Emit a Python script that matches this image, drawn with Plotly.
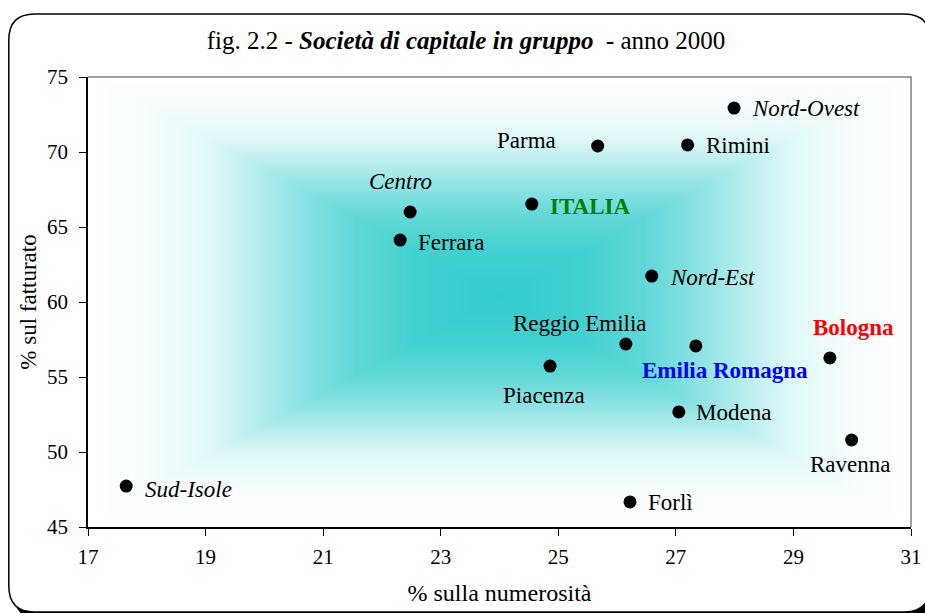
import numpy as np
import plotly.graph_objects as go

# ---------------- data ----------------
names = ["Nord-Ovest", "Parma", "Rimini", "Centro", "ITALIA", "Ferrara", "Nord-Est",
         "Reggio Emilia", "Emilia Romagna", "Bologna", "Piacenza", "Modena",
         "Ravenna", "Sud-Isole", "Forlì"]
numerosita = [27.99, 25.67, 27.20, 22.48, 24.55, 22.31, 26.59,
              26.15, 27.34, 29.62, 24.86, 27.05, 29.99, 17.65, 26.22]
fatturato = [72.93, 70.40, 70.47, 66.00, 66.53, 64.13, 61.73,
             57.20, 57.07, 56.27, 55.73, 52.67, 50.80, 47.73, 46.67]
x_ticks = [17, 19, 21, 23, 25, 27, 29, 31]
y_ticks = [45, 50, 55, 60, 65, 70, 75]

title_plain1 = "fig. 2.2 - "
title_bold = "Società di capitale in gruppo"
title_plain2 = "  - anno 2000"
x_title = "% sulla numerosità"
y_title = "% sul fatturato"

# ---------------- styling ----------------
FONT = "Palatino Linotype, Book Antiqua, Palatino, Liberation Serif, serif"
W, H = 925, 613
L, R, T, B = 88, 14, 77, 86
PW, PH = W - L - R, H - T - B
LABEL_SIZE = 23

# label placement: (xanchor, xshift, yshift, color, bold, italic)
label_style = {
    "Nord-Ovest": ("left", 16, 0, "black", False, True),
    "Parma": ("right", -40, 6, "black", False, False),
    "Rimini": ("left", 16, -1, "black", False, False),
    "Centro": ("center", -10, 31, "black", False, True),
    "ITALIA": ("left", 16, -2, "#008000", True, False),
    "Ferrara": ("left", 16, -2, "black", False, False),
    "Nord-Est": ("left", 16, -1, "black", False, True),
    "Reggio Emilia": ("center", -46, 21, "black", False, False),
    "Emilia Romagna": ("center", 29, -25, "#0000FF", True, False),
    "Bologna": ("center", 24, 30, "#FF0000", True, False),
    "Piacenza": ("center", -6, -29, "black", False, False),
    "Modena": ("left", 15, -1, "black", False, False),
    "Ravenna": ("center", -2, -24, "black", False, False),
    "Sud-Isole": ("left", 17, -3, "black", False, True),
    "Forlì": ("left", 16, -1, "black", False, False),
}

fig = go.Figure()

# gradient background ("from centre" rectangular gradient)
gx = np.linspace(x_ticks[0], x_ticks[-1], 281)
gy = np.linspace(y_ticks[0], y_ticks[-1], 301)
cx, cy = 24.0, 60.4
GX, GY = np.meshgrid(gx, gy)
Z = np.maximum(np.abs(GX - cx) / (x_ticks[-1] - x_ticks[0]) * 2,
               np.abs(GY - cy) / (y_ticks[-1] - y_ticks[0]) * 2)
Z = np.clip(Z, 0, 1)

def mix(w):
    t = (51, 204, 204)
    c = [round(v * (1 - w) + 255 * w) for v in t]
    return f"rgb({c[0]},{c[1]},{c[2]})"

stops = [(0, 0), (0.2, 0.07), (0.35, 0.22), (0.5, 0.47), (0.6, 0.66),
         (0.7, 0.84), (0.85, 0.96), (1, 1)]
fig.add_trace(go.Heatmap(x=gx, y=gy, z=Z, zmin=0, zmax=1, zsmooth="best",
                         colorscale=[[s, mix(w)] for s, w in stops],
                         showscale=False, hoverinfo="skip"))

fig.add_trace(go.Scatter(x=numerosita, y=fatturato, mode="markers",
                         marker=dict(color="black", size=13),
                         hovertext=names, showlegend=False))

for n, xv, yv in zip(names, numerosita, fatturato):
    xa, xs, ys, col, bold, ital = label_style[n]
    txt = n
    if ital:
        txt = f"<i>{txt}</i>"
    if bold:
        txt = f"<b>{txt}</b>"
    fig.add_annotation(x=xv, y=yv, text=txt, showarrow=False, xanchor=xa,
                       yanchor="middle", xshift=xs, yshift=ys,
                       font=dict(family=FONT, size=LABEL_SIZE, color=col))

# frame (rounded rectangle with shadow) in paper coordinates
def px2paper(px, py):
    return (px - L) / PW, (H - B - py) / PH

def rounded(x0, y0, x1, y1, r):
    def P(a, b):
        u, v = px2paper(a, b)
        return f"{u:.5f},{v:.5f}"
    return (f"M {P(x0 + r, y0)} L {P(x1 - r, y0)} Q {P(x1, y0)} {P(x1, y0 + r)} "
            f"L {P(x1, y1 - r)} Q {P(x1, y1)} {P(x1 - r, y1)} "
            f"L {P(x0 + r, y1)} Q {P(x0, y1)} {P(x0, y1 - r)} "
            f"L {P(x0, y0 + r)} Q {P(x0, y0)} {P(x0 + r, y0)} Z")

fig.add_shape(type="path", path=rounded(14, 20, 936, 620, 28), xref="paper",
              yref="paper", fillcolor="black", line=dict(color="black", width=1),
              layer="below")
fig.add_shape(type="path", path=rounded(8.8, 14, 930, 612, 26), xref="paper",
              yref="paper", fillcolor="white", line=dict(color="black", width=1.5),
              layer="below")

# plot-area border (top/right grey)
fig.add_shape(type="path", path="M 0,1 L 1,1 L 1,0", xref="paper", yref="paper",
              line=dict(color="#808080", width=1.5), layer="above")

fig.update_layout(
    width=W, height=H, autosize=False,
    margin=dict(l=L, r=R, t=T, b=B, autoexpand=False),
    paper_bgcolor="white", plot_bgcolor="rgba(0,0,0,0)",
    showlegend=False,
    title=dict(text=f"{title_plain1}<b><i>{title_bold}</i></b>{title_plain2}",
               x=466 / W, xanchor="center", y=1 - 40 / H, yanchor="middle",
               yref="container", font=dict(family=FONT, size=25, color="black")),
    font=dict(family=FONT, color="black"),
)
fig.update_xaxes(range=[x_ticks[0], x_ticks[-1]], tickvals=x_ticks,
                 automargin=False,
                 showgrid=False, zeroline=False, showline=True,
                 linecolor="black", linewidth=1.5, ticks="outside", ticklen=7,
                 tickcolor="black", tickfont=dict(family=FONT, size=21),
                 ticklabelstandoff=3,
                 title=dict(text=x_title, font=dict(family=FONT, size=24),
                            standoff=16))
fig.update_yaxes(range=[y_ticks[0], y_ticks[-1]], tickvals=y_ticks,
                 automargin=False,
                 showgrid=False, zeroline=False, showline=True,
                 linecolor="black", linewidth=1.5, ticks="outside", ticklen=7,
                 tickcolor="black", tickfont=dict(family=FONT, size=21),
                 ticklabelstandoff=7,
                 title=dict(text=y_title, font=dict(family=FONT, size=23),
                            standoff=4))

fig.write_html("out.html",
               config={"displayModeBar": False, "responsive": False},
               post_script="document.body.style.margin='0';"
                           "document.body.style.overflow='hidden';"
                           "document.documentElement.style.overflow='hidden';")
